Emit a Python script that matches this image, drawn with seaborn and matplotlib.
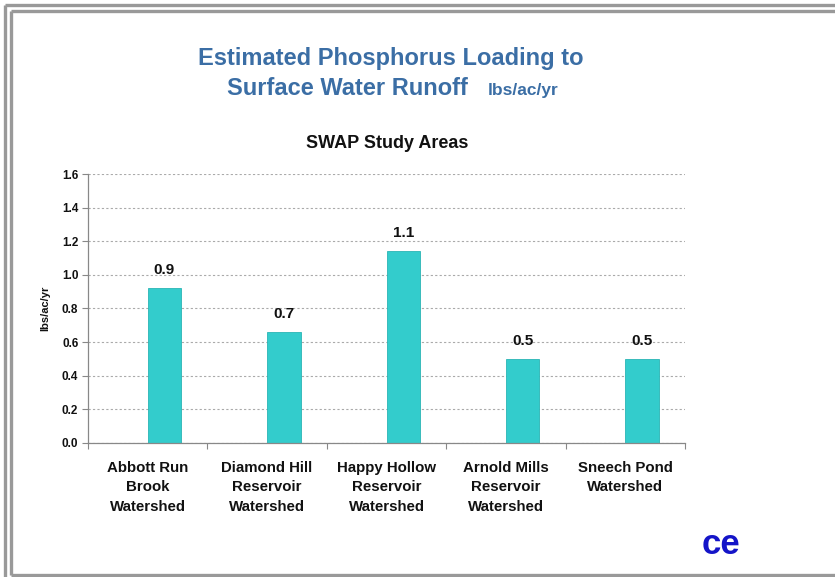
import matplotlib
matplotlib.use("Agg")
import matplotlib.pyplot as plt
from matplotlib.lines import Line2D
import seaborn as sns
import pandas as pd

areas = [
    "Abbott Run\nBrook\nWatershed",
    "Diamond Hill\nReservoir\nWatershed",
    "Happy Hollow\nReservoir\nWatershed",
    "Arnold Mills\nReservoir\nWatershed",
    "Sneech Pond\nWatershed",
]
loading = [0.92, 0.66, 1.14, 0.50, 0.50]
yticks = [0.0, 0.2, 0.4, 0.6, 0.8, 1.0, 1.2, 1.4, 1.6]

sns.set_theme(style="white")
plt.rcParams["font.family"] = ["Liberation Sans", "DejaVu Sans"]

df = pd.DataFrame({"area": areas, "loading": loading})

fig = plt.figure(figsize=(8.35, 5.77), dpi=100)
ax = fig.add_axes([0.1054, 0.2328, 0.7150, 0.4652])

sns.barplot(data=df, x="area", y="loading", color="#33CCCC", saturation=1,
            width=0.28, ax=ax)
# bars sit right of the category centre, as in the original chart
for p in ax.patches:
    p.set_x(p.get_x() + 0.14)
    p.set_edgecolor("#2ab5b5")
    p.set_linewidth(0.6)

for p, v in zip(ax.patches, loading):
    ax.annotate(f"{v:.1f}", (p.get_x() + p.get_width() / 2, v),
                xytext=(0, 8), textcoords="offset points",
                ha="center", va="bottom", fontsize=11, fontweight="bold",
                color="#111111")

ax.set_xlim(-0.5, len(areas) - 0.5)
ax.set_ylim(0, 1.6)
ax.set_yticks(yticks)
ax.set_yticklabels([f"{t:.1f}" for t in yticks], fontsize=8.5,
                   fontweight="bold", color="#111111")
ax.set_xticks(range(len(areas)))
ax.set_xticklabels(areas, fontsize=10.8, fontweight="bold", color="#111111",
                   linespacing=1.5, va="top")
ax.set_xticks([i - 0.5 for i in range(len(areas) + 1)], minor=True)
ax.tick_params(axis="x", which="major", length=0, pad=13)
ax.tick_params(axis="x", which="minor", length=4, width=0.8,
               color="#888888", direction="out", bottom=True)
ax.tick_params(axis="y", length=4, width=0.8, color="#888888",
               direction="out", left=True, pad=3)
ax.set_xlabel("")
ax.set_ylabel("lbs/ac/yr", fontsize=8, fontweight="bold", labelpad=8,
              color="#111111")

ax.yaxis.grid(True, linestyle=(0, (2, 2)), color="#aaaaaa", linewidth=0.8)
ax.set_axisbelow(True)
for s in ["top", "right"]:
    ax.spines[s].set_visible(False)
for s in ["left", "bottom"]:
    ax.spines[s].set_color("#888888")
    ax.spines[s].set_linewidth(0.9)

title_color = "#3b6ea5"
fig.text(0.4677, 0.899, "Estimated Phosphorus Loading to", ha="center",
         va="center", fontsize=17, fontweight="bold", color=title_color)
fig.text(0.4156, 0.846, "Surface Water Runoff", ha="center", va="center",
         fontsize=17, fontweight="bold", color=title_color)
fig.text(0.626, 0.843, "lbs/ac/yr", ha="center", va="center",
         fontsize=12.5, fontweight="bold", color=title_color)
fig.text(0.4635, 0.752, "SWAP Study Areas", ha="center", va="center",
         fontsize=13, fontweight="bold", color="#111111")

fig.text(0.8635, 0.056, "ce", ha="center", va="center", fontsize=25,
         fontweight="bold", color="#1414c8")

# double frame around the slide, running off the right and bottom edges
def frame_line(xs, ys):
    fig.add_artist(Line2D([x / 835 for x in xs], [1 - y / 577 for y in ys],
                          transform=fig.transFigure, color="#999999",
                          linewidth=2.4, solid_capstyle="butt"))

frame_line([4.5, 4.5], [4.5, 577])
frame_line([4.5, 835], [4.5, 4.5])
frame_line([10.5, 10.5], [10.5, 575])
frame_line([10.5, 835], [10.5, 10.5])
frame_line([10.5, 835], [575, 575])

fig.savefig("out.png", dpi=100)
